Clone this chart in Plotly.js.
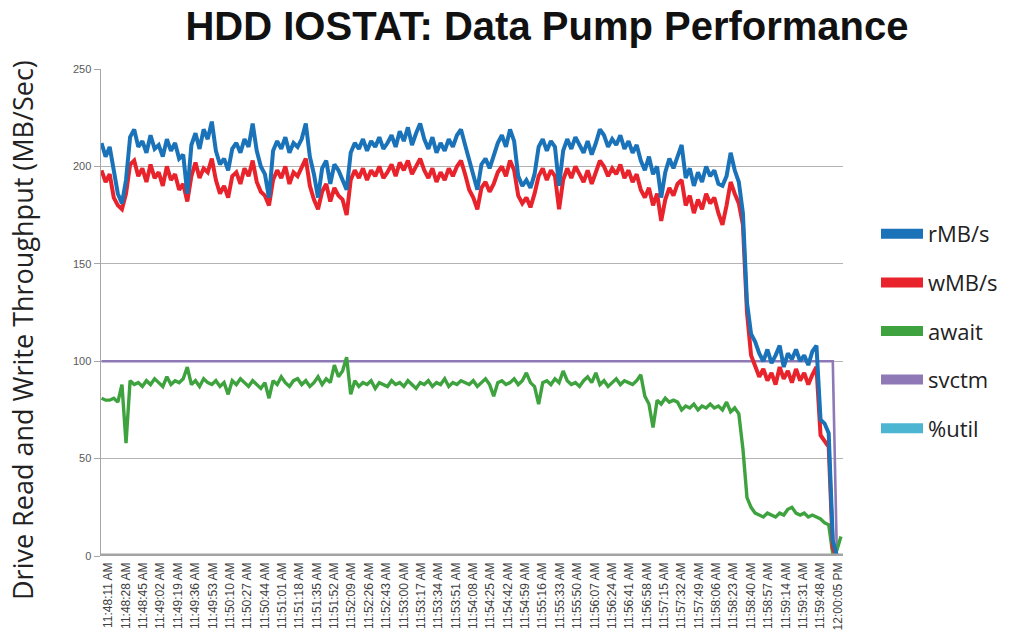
<!DOCTYPE html>
<html><head><meta charset="utf-8">
<script src="https://cdn.plot.ly/plotly-3.0.1.min.js"></script>
<style>html,body{margin:0;padding:0;background:#fff}#chart{width:1015px;height:639px}</style>
</head><body><div id="chart"></div>
<script>
// ---- data ----
const seriesNames = ['rMB/s', 'wMB/s', 'await', 'svctm', '%util'];
const seriesColors = ['#1a72b9', '#e8232b', '#3ea33f', '#8e78b6', '#4cb5d1'];
const sampleDate = '2013-01-01';
const startClock = '11:48:11';
const sampleStepSeconds = 4;

const rMBs = [
212,205,210,199,186,181,193,215,219,210,
213,207,216,209,211,205,214,208,212,204,
206,186,211,217,209,219,214,223,208,201,
204,198,209,212,207,214,210,222,208,200,
196,184,208,213,209,215,207,212,210,214,
222,205,196,184,199,203,191,201,198,193,
188,207,212,209,214,208,213,210,215,209,
212,216,210,218,213,220,211,217,222,214,
209,215,207,212,208,214,210,216,219,211,
203,196,188,201,204,199,205,212,216,210,
219,213,195,190,193,189,196,210,214,208,
213,210,190,208,214,209,215,211,207,213,
206,212,219,216,210,214,211,216,209,213,
207,211,203,198,205,196,200,184,197,204,
199,205,211,194,199,190,197,192,200,195,
198,191,190,195,207,198,192,176,130,114,
110,104,100,106,99,103,108,97,104,101,
106,100,103,98,105,108,70,68,63,8,
0,0];

const wMBs = [
198,192,196,184,180,178,186,201,203,195,
199,192,201,194,197,190,200,193,196,188,
191,182,195,202,194,199,197,204,193,186,
190,184,195,197,191,199,195,203,192,187,
185,180,193,198,194,200,191,197,195,199,
204,190,183,178,187,191,182,189,185,183,
175,193,198,194,199,193,198,195,200,194,
197,201,195,202,198,203,196,200,204,198,
194,199,192,197,193,199,195,200,203,196,
188,184,178,189,192,187,191,197,200,195,
203,198,185,181,184,179,186,195,199,193,
198,195,178,193,199,194,200,196,192,198,
191,197,203,200,195,199,196,201,194,198,
192,196,188,184,189,180,186,172,183,189,
185,191,193,180,185,176,183,178,186,181,
184,176,170,180,192,186,181,170,125,103,
98,92,96,90,94,88,97,91,95,89,
96,90,94,88,93,97,62,59,56,4,
0,0];

const awaitVals = [
81,80,80,81,79,88,58,90,88,89,
87,90,88,91,89,87,92,88,90,89,
91,97,88,90,87,91,89,88,90,87,
89,83,90,88,91,89,87,90,88,86,
89,81,90,88,92,89,87,90,91,88,
90,87,89,92,88,91,89,98,92,95,
102,83,90,87,89,88,90,86,89,88,
87,90,88,89,87,90,88,86,89,88,
90,87,89,88,91,87,89,88,90,89,
88,90,87,89,91,88,82,89,90,88,
89,91,88,90,94,89,87,78,89,90,
88,91,89,95,90,88,89,87,90,92,
89,94,88,90,87,89,91,88,90,89,
88,90,93,82,78,66,80,78,81,79,
80,79,75,77,76,78,75,77,76,78,
76,77,75,79,74,76,73,55,30,25,
22,21,20,22,21,20,22,21,24,25,
22,21,22,20,21,20,19,17,16,1,
3,10];

const svctmTimes = ['11:48:11', '12:00:07', '12:00:11', '12:00:15'];
const svctmValues = [100, 100, 0, 0];
const utilTimes = ['11:48:11', '12:00:15'];
const utilValues = [0, 0];

const tickLabels = [
'11:48:11 AM','11:48:28 AM','11:48:45 AM','11:49:02 AM','11:49:19 AM','11:49:36 AM',
'11:49:53 AM','11:50:10 AM','11:50:27 AM','11:50:44 AM','11:51:01 AM','11:51:18 AM',
'11:51:35 AM','11:51:52 AM','11:52:09 AM','11:52:26 AM','11:52:43 AM','11:53:00 AM',
'11:53:17 AM','11:53:34 AM','11:53:51 AM','11:54:08 AM','11:54:25 AM','11:54:42 AM',
'11:54:59 AM','11:55:16 AM','11:55:33 AM','11:55:50 AM','11:56:07 AM','11:56:24 AM',
'11:56:41 AM','11:56:58 AM','11:57:15 AM','11:57:32 AM','11:57:49 AM','11:58:06 AM',
'11:58:23 AM','11:58:40 AM','11:58:57 AM','11:59:14 AM','11:59:31 AM','11:59:48 AM',
'12:00:05 PM'];
const yTicks = [0, 50, 100, 150, 200, 250];

// ---- helpers ----
function pad(n){ return (n < 10 ? '0' : '') + n; }
function clockToSec(c){ const p = c.split(':').map(Number); return p[0]*3600 + p[1]*60 + p[2]; }
function secToDate(s){
  const h = Math.floor(s/3600), m = Math.floor((s%3600)/60), sec = s%60;
  return sampleDate + ' ' + pad(h) + ':' + pad(m) + ':' + pad(Math.floor(sec)) + (sec % 1 ? '.5' : '');
}
function clockToDate(c){ return sampleDate + ' ' + c; }
function labelToDate(l){
  const parts = l.split(' '); let s = clockToSec(parts[0]);
  if (parts[1] === 'PM' && s < 12*3600) s += 12*3600;
  return secToDate(s);
}
const startSec = clockToSec(startClock);
const sampleTimes = rMBs.map((_, i) => secToDate(startSec + i*sampleStepSeconds));

const lineW = [4, 4, 3.4, 2.6, 3.0];
const traces = [
  {x: utilTimes.map(clockToDate), y: utilValues, name: seriesNames[4]},
  {x: svctmTimes.map(clockToDate), y: svctmValues, name: seriesNames[3]},
  {x: sampleTimes, y: awaitVals, name: seriesNames[2]},
  {x: sampleTimes, y: wMBs, name: seriesNames[1]},
  {x: sampleTimes, y: rMBs, name: seriesNames[0]}
].map(t => {
  const k = seriesNames.indexOf(t.name);
  return Object.assign(t, {type: 'scatter', mode: 'lines', showlegend: false, hoverinfo: 'skip',
    line: {color: seriesColors[k], width: lineW[k]}});
});
// legend entries (thick swatches like the reference)
seriesNames.forEach((n, k) => {
  traces.push({type: 'scatter', mode: 'lines', x: [null], y: [null], name: n,
    legendgroup: 'g' + k, showlegend: true, line: {color: seriesColors[k], width: 10}});
});

const layout = {
  width: 1015, height: 639,
  margin: {l: 101, r: 172, t: 69, b: 83},
  paper_bgcolor: '#fff', plot_bgcolor: '#fff',
  title: {text: 'HDD IOSTAT: Data Pump Performance', x: 547/1015, xref: 'container', xanchor: 'center',
    y: 1 - 26/639, yref: 'container', yanchor: 'middle',
    font: {family: 'Liberation Sans', size: 40, color: '#111', weight: 700}},
  xaxis: {
    type: 'date',
    range: [secToDate(startSec - 0.5), clockToDate('12:00:17')],
    tickmode: 'array', tickvals: tickLabels.map(labelToDate), ticktext: tickLabels,
    tickangle: -90, ticklabelshift: 7, ticklabelstandoff: 3,
    tickfont: {family: 'Liberation Sans', size: 12, color: '#404040'},
    ticks: '', showgrid: false, zeroline: false, showline: false
  },
  yaxis: {
    range: [0, 250], tickmode: 'array', tickvals: yTicks,
    tickfont: {family: 'Liberation Sans', size: 11, color: '#595959'},
    ticks: 'outside', ticklen: 6, tickcolor: '#a6a6a6', tickwidth: 1,
    showgrid: true, gridcolor: '#b3b3b3', gridwidth: 1, zeroline: false,
    showline: true, linecolor: '#a6a6a6', linewidth: 1.5
  },
  shapes: [{type: 'line', xref: 'paper', yref: 'y', x0: 0, x1: 1, y0: 0, y1: 0,
    line: {color: '#a3a3a3', width: 5}, layer: 'above'}],
  legend: {x: 876/1015, xref: 'container', xanchor: 'left', y: 1 - 213/639, yref: 'container', yanchor: 'top',
    font: {family: 'Open Sans', size: 22, color: '#222'}, itemwidth: 42, tracegroupgap: 17,
    traceorder: 'grouped', bgcolor: 'rgba(0,0,0,0)'},
  annotations: [{
    text: 'Drive Read and Write Throughput (MB/Sec)', textangle: -90, showarrow: false,
    xref: 'paper', yref: 'paper', x: (22-101)/742, y: (556-330)/487, xanchor: 'center', yanchor: 'middle',
    font: {family: 'Open Sans', size: 27, color: '#222'}
  }]
};
Plotly.newPlot('chart', traces, layout, {displayModeBar: false, staticPlot: true});
</script></body></html>
